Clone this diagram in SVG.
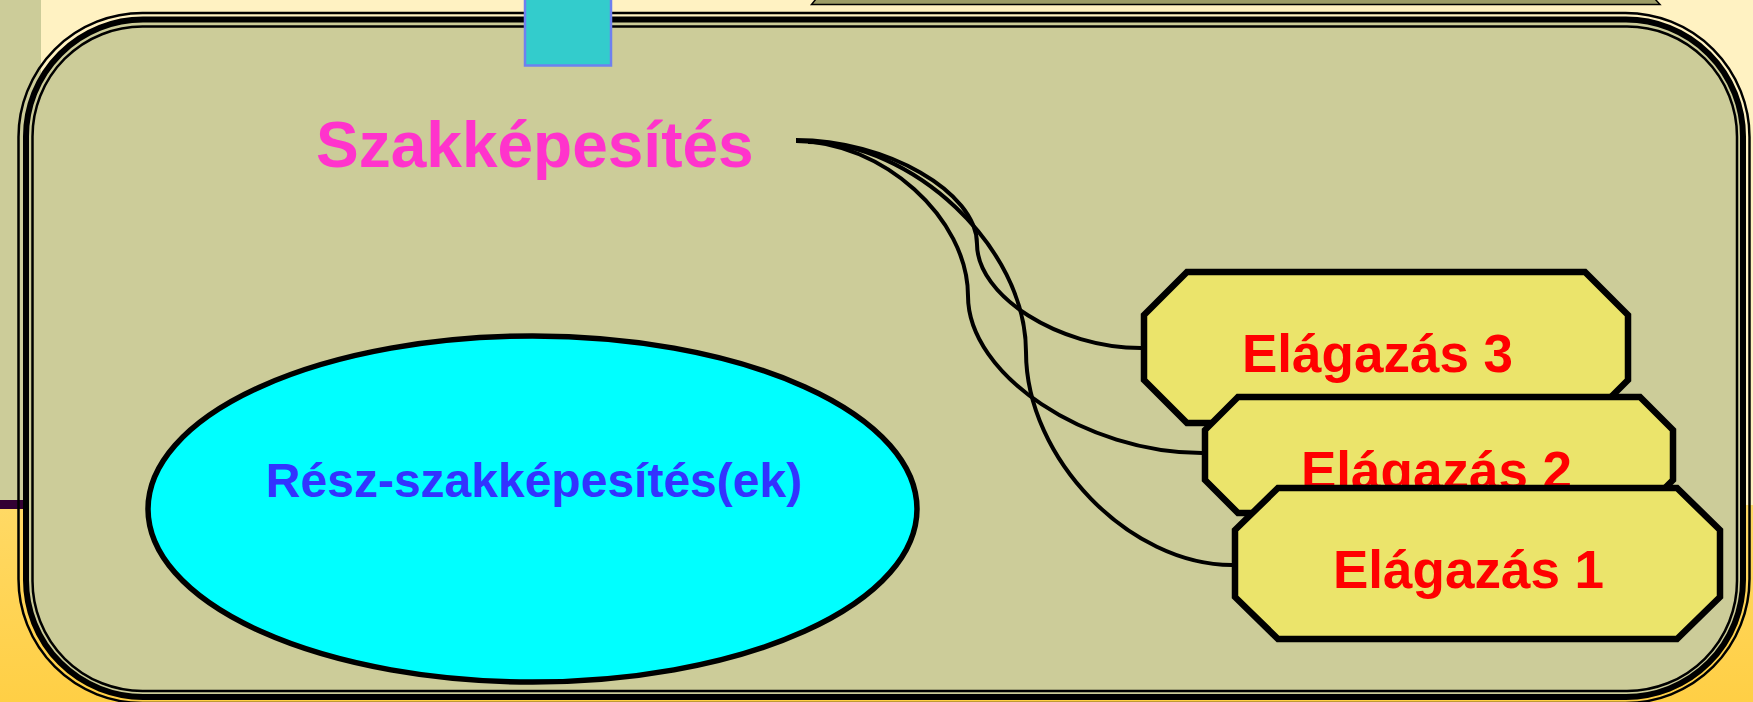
<svg xmlns="http://www.w3.org/2000/svg" width="1753" height="702" viewBox="0 0 1753 702">
  <defs>
    <linearGradient id="lowerBand" x1="0" y1="0" x2="0" y2="1">
      <stop offset="0" stop-color="#FFD965"/>
      <stop offset="1" stop-color="#FFCF45"/>
    </linearGradient>
    <style>
      .frame-thin { fill: none; stroke: #000; stroke-width: 2.5; }
      .frame-thick { fill: #CCCC99; stroke: #000; stroke-width: 6; }
      .frame-inner { fill: none; stroke: #000; stroke-width: 2.5; }
      .branch { fill: #EBE46B; stroke: #000; stroke-width: 6.5; stroke-linejoin: miter; }
      .branch-label { font-family: "Liberation Sans", Arial, sans-serif; font-weight: bold; font-size: 53px; fill: #FF0000; }
      .link { fill: none; stroke: #000; stroke-width: 4; stroke-linecap: butt; }
    </style>
  </defs>

  <!-- slide background -->
  <g id="background">
    <rect x="0" y="0" width="1753" height="505" fill="#FFF2C2"/>
    <rect x="0" y="505" width="1753" height="197" fill="url(#lowerBand)"/>
    <rect x="0" y="0" width="41" height="500" fill="#CCCC99"/>
    <rect x="0" y="500" width="23" height="9" fill="#330033"/>
    <polygon points="816,-1 811.5,4.5 1660,4.5 1655,-1" fill="#9C9C66" stroke="#000" stroke-width="1.5"/>
  </g>

  <!-- main framed panel with triple border -->
  <g id="panel">
    <rect class="frame-thin" x="18.5" y="13" width="1731" height="690" rx="124" ry="124"/>
    <rect class="frame-thick" x="26" y="19.5" width="1717" height="677.5" rx="117" ry="117"/>
    <rect class="frame-inner" x="32.5" y="26.5" width="1704.5" height="664.5" rx="110" ry="110"/>
  </g>

  <!-- tab on the top edge -->
  <g id="tab">
    <rect x="525" y="-2" width="86" height="67.5" fill="#33CCCC" stroke="#6E80F0" stroke-width="2.5"/>
  </g>

  <!-- main qualification title -->
  <g id="node-szakkepesites">
    <text x="316" y="167" font-family="'Liberation Sans', Arial, sans-serif" font-weight="bold" font-size="64" fill="#FF33CC">Szakképesítés</text>
  </g>

  <!-- partial qualifications -->
  <g id="node-resz">
    <ellipse cx="532.5" cy="509" rx="384.5" ry="173" fill="#00FFFF" stroke="#000" stroke-width="5.5"/>
    <text x="534" y="497" text-anchor="middle" font-family="'Liberation Sans', Arial, sans-serif" font-weight="bold" font-size="48" fill="#3333FF">Rész-szakképesítés(ek)</text>
  </g>

  <!-- branches, back to front -->
  <g id="node-elagazas-3">
    <polygon class="branch" points="1187,272 1585,272 1628,315 1628,380 1585,423 1187,423 1144,380 1144,315"/>
    <text class="branch-label" x="1242" y="372">Elágazás 3</text>
  </g>
  <g id="node-elagazas-2">
    <polygon class="branch" points="1238,397 1640,397 1673,430 1673,480 1640,513 1238,513 1205,480 1205,430"/>
    <text class="branch-label" x="1301" y="489">Elágazás 2</text>
  </g>
  <g id="node-elagazas-1">
    <polygon class="branch" points="1278,488 1677,488 1720,530 1720,597 1677,639 1278,639 1235,597 1235,530"/>
    <text class="branch-label" x="1333" y="588">Elágazás 1</text>
  </g>

  <!-- curved connectors from the title to each branch -->
  <g id="connectors">
    <path class="link" d="M796,140 C886,140 977,192 977,244 C977,296 1059,348 1141,348"/>
    <path class="link" d="M796,141 C882,141 968,218 968,296 C968,375 1086,453 1202,453"/>
    <path class="link" d="M808,142 C911,142 1026,246 1026,352 C1026,459 1130,565 1232,565"/>
  </g>
</svg>
